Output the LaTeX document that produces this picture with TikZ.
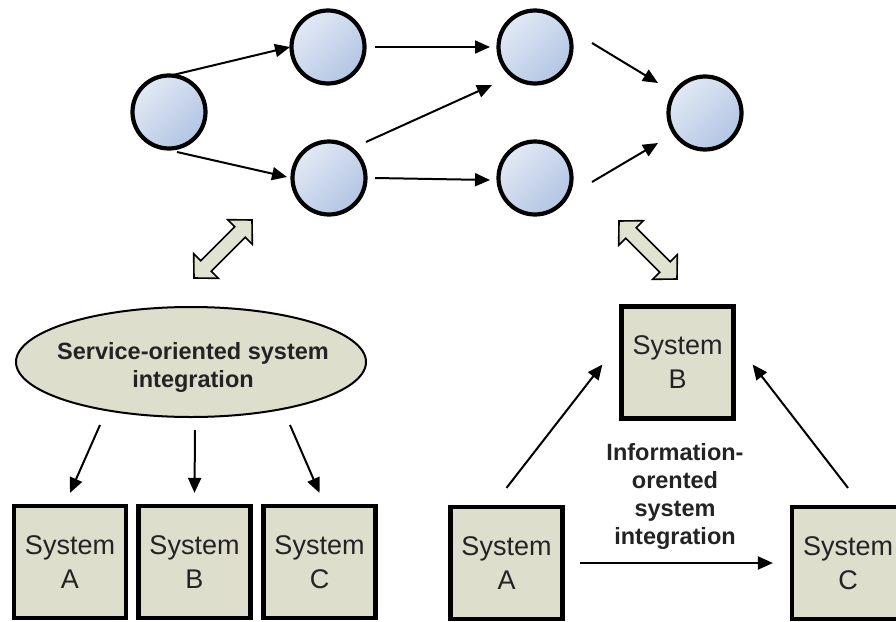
\documentclass[tikz,border=0pt]{standalone}
\usepackage{fontspec}
\setmainfont{Liberation Sans}
\usetikzlibrary{arrows.meta,shapes.geometric,calc}

\definecolor{nodefillA}{RGB}{226,233,245}
\definecolor{nodefillB}{RGB}{178,197,227}
\definecolor{sandfill}{RGB}{221,222,204}
\definecolor{arrowfill}{RGB}{224,227,208}
\definecolor{txt}{RGB}{35,35,35}

\tikzset{
  svc/.style={circle, draw=black, line width=4.2pt, minimum size=73pt, inner sep=0pt,
              top color=nodefillA, bottom color=nodefillB, shading angle=45},
  sysbox/.style={rectangle, draw=black, line width=4.2pt, fill=sandfill, minimum size=112pt,
                 inner sep=0pt, align=center, text=txt, font=\fontsize{27}{34}\selectfont},
  conn/.style={line width=2pt, -{Triangle[length=15pt,width=13pt]}},
  bigarrow/.style={draw=black, line width=1.6pt, fill=arrowfill, line join=miter},
  label/.style={align=center, text=txt, font=\bfseries\fontsize{23.5}{28}\selectfont}
}
% hollow two-headed arrow along the local x axis, centred on the origin
\newcommand\twoheadarrow[1]{%
  \draw[bigarrow] #1 (-41,0) -- (-24,17.5) -- (-24,7.5) -- (24,7.5) -- (24,17.5)
    -- (41,0) -- (24,-17.5) -- (24,-7.5) -- (-24,-7.5) -- (-24,-17.5) -- cycle;}

\begin{document}
\begin{tikzpicture}[x=1pt,y=-1pt]
  \useasboundingbox[fill=white] (0,0) rectangle (896,621);

  % process graph
  \node[svc] (n1) at (169,112) {};
  \node[svc] (n2) at (328,47) {};
  \node[svc] (n3) at (329,178) {};
  \node[svc] (n4) at (535,47) {};
  \node[svc] (n5) at (535,178) {};
  \node[svc] (n6) at (705,113) {};

  \draw[conn] ($(n1)+(4,-37)$) -- ($(n2)+(-38,0)$);
  \draw[conn] ($(n1)+(8,40)$) -- ($(n3)+(-42,-1)$);
  \draw[conn] ($(n2)+(47,0)$) -- ($(n4)+(-45,0)$);
  \draw[conn] ($(n3)+(37,-36)$) -- ($(n4)+(-43,38)$);
  \draw[conn] ($(n3)+(46,0)$) -- ($(n5)+(-45,2)$);
  \draw[conn] ($(n4)+(57,-4)$) -- ($(n6)+(-47,-30)$);
  \draw[conn] ($(n5)+(57,4)$) -- ($(n6)+(-47,30)$);

  % links between the graph and the two integration styles
  \begin{scope}[shift={(223,249)}, rotate=45]
    \twoheadarrow{}
  \end{scope}
  \begin{scope}[shift={(648,250)}, rotate=-45]
    \twoheadarrow{}
  \end{scope}

  % service-oriented integration
  \node[ellipse, draw=black, line width=2pt, fill=sandfill, minimum width=350pt,
        minimum height=110pt, inner sep=0pt] (soi) at (191,362) {};
  \node[label] (soitxt) at (193,367) {Service-oriented system\\integration};

  \node[sysbox] (lA) at (70,562) {System\\A};
  \node[sysbox] (lB) at (194.5,562) {System\\B};
  \node[sysbox] (lC) at (319.5,562) {System\\C};

  \draw[conn] ($(soi)+(-91,63)$) -- ($(lA.north)+(0,-11)$);
  \draw[conn] ($(soi)+(4,68)$) -- ($(lB.north)+(0,-11)$);
  \draw[conn] ($(soi)+(99,63)$) -- ($(lC.north)+(0,-11)$);

  % information-oriented integration
  \node[sysbox] (rB) at (677.5,362.5) {System\\B};
  \node[sysbox] (rA) at (506.5,563) {System\\A};
  \node[sysbox] (rC) at (848,563) {System\\C};

  \draw[conn] ($(rA.north)+(0,-17)$) -- ($(rB.west)+(-17,2)$);
  \draw[conn] ($(rC.north)+(0,-17)$) -- ($(rB.east)+(17,2)$);
  \draw[conn] ($(rA.east)+(15,0)$) -- ($(rC.west)+(-17,0)$);

  \node[label] (ioitxt) at (675,496) {Information-\\orented\\system\\integration};
\end{tikzpicture}
\end{document}
